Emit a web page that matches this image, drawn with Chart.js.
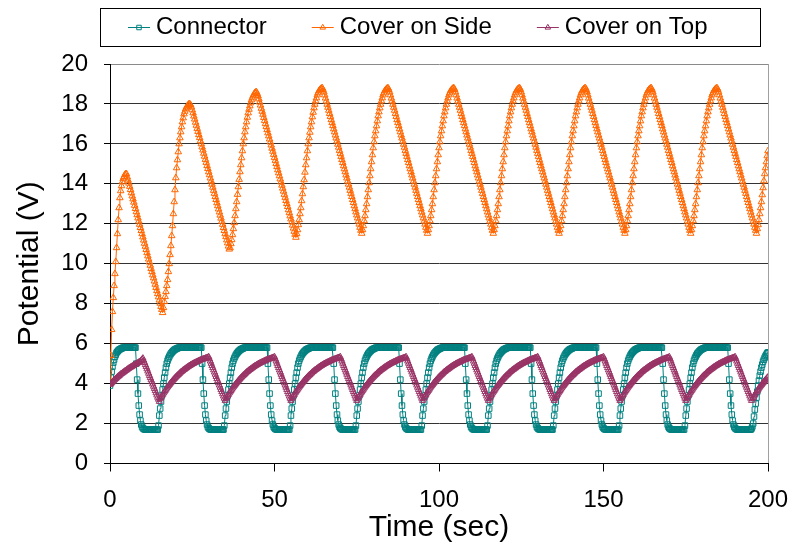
<!DOCTYPE html>
<html>
<head>
<meta charset="utf-8">
<script src="https://cdn.jsdelivr.net/npm/chart.js@4.4.1/dist/chart.umd.min.js"></script>
<style>
html,body{margin:0;padding:0;background:#fff;}
#wrap{width:792px;height:547px;position:relative;}
canvas{display:block;}
</style>
</head>
<body>
<div id="wrap"><canvas id="c" width="792" height="547"></canvas></div>
<script>
// sampling interval of the recorded series (seconds)
const timeStepSec = 0.25;

const seriesNames = ['Connector', 'Cover on Side', 'Cover on Top'];
const xTickValues = [0, 50, 100, 150, 200];
const yTickValues = [0, 2, 4, 6, 8, 10, 12, 14, 16, 18, 20];

// Connector potential (V), t = 0 .. 200 s, one line per 20 s
const connector = [
3.9,4.3,4.6,4.85,5.05,5.2,5.35,5.45,5.55,5.6,5.65,5.69,5.72,5.74,5.76,5.78,5.8,5.8,5.8,5.8,5.8,5.8,5.8,5.8,5.8,5.8,5.8,5.8,5.8,5.8,5.8,5.8,5.0,4.2,3.5,2.9,2.45,2.15,1.95,1.83,1.77,1.73,1.71,1.7,1.7,1.7,1.7,1.7,1.7,1.7,1.7,1.7,1.7,1.7,1.7,1.7,1.7,1.7,1.7,1.9,2.4,2.75,3.1,3.4,3.7,4.0,4.3,4.55,4.8,5.0,5.15,5.26,5.35,5.43,5.5,5.55,5.6,5.64,5.68,5.71,
5.73,5.75,5.77,5.79,5.8,5.8,5.8,5.8,5.8,5.8,5.8,5.8,5.8,5.8,5.8,5.8,5.8,5.8,5.8,5.8,5.8,5.8,5.8,5.8,5.8,5.8,5.8,5.8,5.8,5.8,5.8,5.8,5.0,4.2,3.5,2.9,2.45,2.15,1.95,1.83,1.77,1.73,1.71,1.7,1.7,1.7,1.7,1.7,1.7,1.7,1.7,1.7,1.7,1.7,1.7,1.7,1.7,1.7,1.7,1.9,2.4,2.75,3.1,3.4,3.7,4.0,4.3,4.55,4.8,5.0,5.15,5.26,5.35,5.43,5.5,5.55,5.6,5.64,5.68,5.71,
5.73,5.75,5.77,5.79,5.8,5.8,5.8,5.8,5.8,5.8,5.8,5.8,5.8,5.8,5.8,5.8,5.8,5.8,5.8,5.8,5.8,5.8,5.8,5.8,5.8,5.8,5.8,5.8,5.8,5.8,5.8,5.8,5.0,4.2,3.5,2.9,2.45,2.15,1.95,1.83,1.77,1.73,1.71,1.7,1.7,1.7,1.7,1.7,1.7,1.7,1.7,1.7,1.7,1.7,1.7,1.7,1.7,1.7,1.7,1.9,2.4,2.75,3.1,3.4,3.7,4.0,4.3,4.55,4.8,5.0,5.15,5.26,5.35,5.43,5.5,5.55,5.6,5.64,5.68,5.71,
5.73,5.75,5.77,5.79,5.8,5.8,5.8,5.8,5.8,5.8,5.8,5.8,5.8,5.8,5.8,5.8,5.8,5.8,5.8,5.8,5.8,5.8,5.8,5.8,5.8,5.8,5.8,5.8,5.8,5.8,5.8,5.8,5.0,4.2,3.5,2.9,2.45,2.15,1.95,1.83,1.77,1.73,1.71,1.7,1.7,1.7,1.7,1.7,1.7,1.7,1.7,1.7,1.7,1.7,1.7,1.7,1.7,1.7,1.7,1.9,2.4,2.75,3.1,3.4,3.7,4.0,4.3,4.55,4.8,5.0,5.15,5.26,5.35,5.43,5.5,5.55,5.6,5.64,5.68,5.71,
5.73,5.75,5.77,5.79,5.8,5.8,5.8,5.8,5.8,5.8,5.8,5.8,5.8,5.8,5.8,5.8,5.8,5.8,5.8,5.8,5.8,5.8,5.8,5.8,5.8,5.8,5.8,5.8,5.8,5.8,5.8,5.8,5.0,4.2,3.5,2.9,2.45,2.15,1.95,1.83,1.77,1.73,1.71,1.7,1.7,1.7,1.7,1.7,1.7,1.7,1.7,1.7,1.7,1.7,1.7,1.7,1.7,1.7,1.7,1.9,2.4,2.75,3.1,3.4,3.7,4.0,4.3,4.55,4.8,5.0,5.15,5.26,5.35,5.43,5.5,5.55,5.6,5.64,5.68,5.71,
5.73,5.75,5.77,5.79,5.8,5.8,5.8,5.8,5.8,5.8,5.8,5.8,5.8,5.8,5.8,5.8,5.8,5.8,5.8,5.8,5.8,5.8,5.8,5.8,5.8,5.8,5.8,5.8,5.8,5.8,5.8,5.8,5.0,4.2,3.5,2.9,2.45,2.15,1.95,1.83,1.77,1.73,1.71,1.7,1.7,1.7,1.7,1.7,1.7,1.7,1.7,1.7,1.7,1.7,1.7,1.7,1.7,1.7,1.7,1.9,2.4,2.75,3.1,3.4,3.7,4.0,4.3,4.55,4.8,5.0,5.15,5.26,5.35,5.43,5.5,5.55,5.6,5.64,5.68,5.71,
5.73,5.75,5.77,5.79,5.8,5.8,5.8,5.8,5.8,5.8,5.8,5.8,5.8,5.8,5.8,5.8,5.8,5.8,5.8,5.8,5.8,5.8,5.8,5.8,5.8,5.8,5.8,5.8,5.8,5.8,5.8,5.8,5.0,4.2,3.5,2.9,2.45,2.15,1.95,1.83,1.77,1.73,1.71,1.7,1.7,1.7,1.7,1.7,1.7,1.7,1.7,1.7,1.7,1.7,1.7,1.7,1.7,1.7,1.7,1.9,2.4,2.75,3.1,3.4,3.7,4.0,4.3,4.55,4.8,5.0,5.15,5.26,5.35,5.43,5.5,5.55,5.6,5.64,5.68,5.71,
5.73,5.75,5.77,5.79,5.8,5.8,5.8,5.8,5.8,5.8,5.8,5.8,5.8,5.8,5.8,5.8,5.8,5.8,5.8,5.8,5.8,5.8,5.8,5.8,5.8,5.8,5.8,5.8,5.8,5.8,5.8,5.8,5.0,4.2,3.5,2.9,2.45,2.15,1.95,1.83,1.77,1.73,1.71,1.7,1.7,1.7,1.7,1.7,1.7,1.7,1.7,1.7,1.7,1.7,1.7,1.7,1.7,1.7,1.7,1.9,2.4,2.75,3.1,3.4,3.7,4.0,4.3,4.55,4.8,5.0,5.15,5.26,5.35,5.43,5.5,5.55,5.6,5.64,5.68,5.71,
5.73,5.75,5.77,5.79,5.8,5.8,5.8,5.8,5.8,5.8,5.8,5.8,5.8,5.8,5.8,5.8,5.8,5.8,5.8,5.8,5.8,5.8,5.8,5.8,5.8,5.8,5.8,5.8,5.8,5.8,5.8,5.8,5.0,4.2,3.5,2.9,2.45,2.15,1.95,1.83,1.77,1.73,1.71,1.7,1.7,1.7,1.7,1.7,1.7,1.7,1.7,1.7,1.7,1.7,1.7,1.7,1.7,1.7,1.7,1.9,2.4,2.75,3.1,3.4,3.7,4.0,4.3,4.55,4.8,5.0,5.15,5.26,5.35,5.43,5.5,5.55,5.6,5.64,5.68,5.71,
5.73,5.75,5.77,5.79,5.8,5.8,5.8,5.8,5.8,5.8,5.8,5.8,5.8,5.8,5.8,5.8,5.8,5.8,5.8,5.8,5.8,5.8,5.8,5.8,5.8,5.8,5.8,5.8,5.8,5.8,5.8,5.8,5.0,4.2,3.5,2.9,2.45,2.15,1.95,1.83,1.77,1.73,1.71,1.7,1.7,1.7,1.7,1.7,1.7,1.7,1.7,1.7,1.7,1.7,1.7,1.7,1.7,1.7,1.7,1.7,1.75,1.85,2.0,2.35,2.7,3.0,3.3,3.6,3.9,4.15,4.4,4.6,4.8,4.95,5.1,5.2,5.3,5.38,5.45,5.52,5.57
];

// Cover on Side potential (V), t = 0 .. 200 s
const coverSide = [
4.0,5.4,6.7,7.6,8.3,8.9,9.5,10.1,10.8,11.5,12.2,12.8,13.3,13.65,13.9,14.1,14.25,14.35,14.45,14.5,14.5,
14.34,14.18,14.03,13.87,13.71,13.55,13.39,13.24,13.08,12.92,12.76,12.6,12.45,12.29,12.13,11.97,11.81,11.66,11.5,11.34,11.18,11.02,10.87,10.71,10.55,10.39,10.23,10.08,9.92,9.76,9.6,9.44,9.29,9.13,8.97,8.81,8.65,8.5,8.34,8.18,8.02,7.86,7.71,7.55,
7.8,8.1,8.35,8.6,8.9,9.2,9.6,10.0,10.45,10.9,11.4,11.9,12.5,13.1,13.7,14.3,14.8,15.2,15.6,16.0,16.3,16.6,16.85,17.1,17.3,17.5,17.63,17.75,17.83,17.9,17.95,18.0,18.0,17.95,
17.85,17.7,17.55,17.39,17.24,17.08,16.93,16.77,16.62,16.46,16.31,16.15,16.0,15.84,15.69,15.53,15.38,15.22,15.07,14.91,14.76,14.6,14.45,14.29,14.14,13.98,13.83,13.67,13.52,13.36,13.21,13.05,12.9,12.74,12.59,12.43,12.28,12.12,11.97,11.81,11.66,11.5,11.35,11.19,11.04,10.88,10.73,
10.8,11.0,11.2,11.45,11.75,12.05,12.4,12.75,13.1,13.47,13.85,14.22,14.6,14.95,15.3,15.65,16.0,16.3,16.6,16.85,17.1,17.33,17.55,17.73,17.9,18.05,18.2,18.3,18.4,18.48,18.55,18.58,18.6,
18.52,18.4,18.25,18.09,17.94,17.78,17.63,17.48,17.32,17.17,17.01,16.86,16.71,16.55,16.4,16.24,16.09,15.94,15.78,15.63,15.47,15.32,15.17,15.01,14.86,14.7,14.55,14.4,14.24,14.09,13.93,13.78,13.63,13.47,13.32,13.16,13.01,12.86,12.7,12.55,12.39,12.24,12.09,11.93,11.78,11.62,11.47,11.32,
11.5,11.7,11.95,12.2,12.5,12.8,13.15,13.5,13.85,14.2,14.58,14.95,15.3,15.65,16.0,16.3,16.58,16.85,17.1,17.35,17.58,17.8,17.98,18.15,18.3,18.45,18.55,18.65,18.7,18.75,18.78,18.8,
18.72,18.6,18.45,18.29,18.14,17.98,17.83,17.68,17.52,17.37,17.21,17.06,16.91,16.75,16.6,16.44,16.29,16.14,15.98,15.83,15.67,15.52,15.37,15.21,15.06,14.9,14.75,14.6,14.44,14.29,14.13,13.98,13.83,13.67,13.52,13.36,13.21,13.06,12.9,12.75,12.59,12.44,12.29,12.13,11.98,11.82,11.67,11.52,11.7,11.9,12.15,12.4,12.7,13.0,13.35,13.7,14.05,14.4,14.75,15.1,15.45,15.8,16.1,16.4,16.65,16.9,17.15,17.4,17.6,17.8,17.98,18.15,18.3,18.45,18.55,18.65,18.7,18.75,18.78,18.8,
18.72,18.6,18.45,18.29,18.14,17.98,17.83,17.68,17.52,17.37,17.21,17.06,16.91,16.75,16.6,16.44,16.29,16.14,15.98,15.83,15.67,15.52,15.37,15.21,15.06,14.9,14.75,14.6,14.44,14.29,14.13,13.98,13.83,13.67,13.52,13.36,13.21,13.06,12.9,12.75,12.59,12.44,12.29,12.13,11.98,11.82,11.67,11.52,11.7,11.9,12.15,12.4,12.7,13.0,13.35,13.7,14.05,14.4,14.75,15.1,15.45,15.8,16.1,16.4,16.65,16.9,17.15,17.4,17.6,17.8,17.98,18.15,18.3,18.45,18.55,18.65,18.7,18.75,18.78,18.8,
18.72,18.6,18.45,18.29,18.14,17.98,17.83,17.68,17.52,17.37,17.21,17.06,16.91,16.75,16.6,16.44,16.29,16.14,15.98,15.83,15.67,15.52,15.37,15.21,15.06,14.9,14.75,14.6,14.44,14.29,14.13,13.98,13.83,13.67,13.52,13.36,13.21,13.06,12.9,12.75,12.59,12.44,12.29,12.13,11.98,11.82,11.67,11.52,11.7,11.9,12.15,12.4,12.7,13.0,13.35,13.7,14.05,14.4,14.75,15.1,15.45,15.8,16.1,16.4,16.65,16.9,17.15,17.4,17.6,17.8,17.98,18.15,18.3,18.45,18.55,18.65,18.7,18.75,18.78,18.8,
18.72,18.6,18.45,18.29,18.14,17.98,17.83,17.68,17.52,17.37,17.21,17.06,16.91,16.75,16.6,16.44,16.29,16.14,15.98,15.83,15.67,15.52,15.37,15.21,15.06,14.9,14.75,14.6,14.44,14.29,14.13,13.98,13.83,13.67,13.52,13.36,13.21,13.06,12.9,12.75,12.59,12.44,12.29,12.13,11.98,11.82,11.67,11.52,11.7,11.9,12.15,12.4,12.7,13.0,13.35,13.7,14.05,14.4,14.75,15.1,15.45,15.8,16.1,16.4,16.65,16.9,17.15,17.4,17.6,17.8,17.98,18.15,18.3,18.45,18.55,18.65,18.7,18.75,18.78,18.8,
18.72,18.6,18.45,18.29,18.14,17.98,17.83,17.68,17.52,17.37,17.21,17.06,16.91,16.75,16.6,16.44,16.29,16.14,15.98,15.83,15.67,15.52,15.37,15.21,15.06,14.9,14.75,14.6,14.44,14.29,14.13,13.98,13.83,13.67,13.52,13.36,13.21,13.06,12.9,12.75,12.59,12.44,12.29,12.13,11.98,11.82,11.67,11.52,11.7,11.9,12.15,12.4,12.7,13.0,13.35,13.7,14.05,14.4,14.75,15.1,15.45,15.8,16.1,16.4,16.65,16.9,17.15,17.4,17.6,17.8,17.98,18.15,18.3,18.45,18.55,18.65,18.7,18.75,18.78,18.8,
18.72,18.6,18.45,18.29,18.14,17.98,17.83,17.68,17.52,17.37,17.21,17.06,16.91,16.75,16.6,16.44,16.29,16.14,15.98,15.83,15.67,15.52,15.37,15.21,15.06,14.9,14.75,14.6,14.44,14.29,14.13,13.98,13.83,13.67,13.52,13.36,13.21,13.06,12.9,12.75,12.59,12.44,12.29,12.13,11.98,11.82,11.67,11.52,11.7,11.9,12.15,12.4,12.7,13.0,13.35,13.7,14.05,14.4,14.75,15.1,15.45,15.8,16.1,16.4,16.65,16.9,17.15,17.4,17.6,17.8,17.98,18.15,18.3,18.45,18.55,18.65,18.7,18.75,18.78,18.8,
18.72,18.6,18.45,18.29,18.14,17.98,17.83,17.68,17.52,17.37,17.21,17.06,16.91,16.75,16.6,16.44,16.29,16.14,15.98,15.83,15.67,15.52,15.37,15.21,15.06,14.9,14.75,14.6,14.44,14.29,14.13,13.98,13.83,13.67,13.52,13.36,13.21,13.06,12.9,12.75,12.59,12.44,12.29,12.13,11.98,11.82,11.67,11.52,11.75,11.95,12.2,12.5,12.8,13.1,13.45,13.8,14.15,14.5,14.8,15.1,15.4,15.65
];

// Cover on Top potential (V), t = 0 .. 200 s
const coverTop = [
3.95,4.0,4.04,4.09,4.13,4.17,4.21,4.25,4.29,4.33,4.36,4.4,4.43,4.47,4.5,4.53,4.56,4.59,4.62,4.65,4.68,4.71,4.74,4.77,4.79,4.82,4.84,4.87,4.89,4.92,4.94,4.97,4.99,5.02,5.04,5.07,5.09,5.12,5.16,5.21,5.27,5.16,5.05,4.94,4.84,4.73,4.62,4.51,4.4,4.29,4.18,4.08,3.97,3.86,3.75,3.64,3.53,3.42,3.31,3.21,
3.1,3.23,3.3,3.38,3.45,3.52,3.58,3.65,3.71,3.77,3.83,3.89,3.94,4.0,4.05,4.1,4.15,4.2,4.24,4.29,4.33,4.37,4.41,4.45,4.49,4.53,4.57,4.6,4.64,4.67,4.7,4.73,4.76,4.79,4.82,4.85,4.88,4.9,4.93,4.95,4.98,5.0,5.02,5.04,5.06,5.08,5.1,5.12,5.14,5.16,5.18,5.19,5.21,5.22,5.24,5.25,5.27,5.28,5.3,5.31,5.34,5.23,5.12,5.01,4.9,4.79,4.68,4.57,4.46,4.35,4.24,4.14,4.03,3.92,3.81,3.7,3.59,3.48,3.37,3.26,
3.15,3.23,3.3,3.38,3.45,3.52,3.58,3.65,3.71,3.77,3.83,3.89,3.94,4.0,4.05,4.1,4.15,4.2,4.24,4.29,4.33,4.37,4.41,4.45,4.49,4.53,4.57,4.6,4.64,4.67,4.7,4.73,4.76,4.79,4.82,4.85,4.88,4.9,4.93,4.95,4.98,5.0,5.02,5.04,5.06,5.08,5.1,5.12,5.14,5.16,5.18,5.19,5.21,5.22,5.24,5.25,5.27,5.28,5.3,5.31,5.34,5.23,5.12,5.01,4.9,4.79,4.68,4.57,4.46,4.35,4.24,4.14,4.03,3.92,3.81,3.7,3.59,3.48,3.37,3.26,
3.15,3.23,3.3,3.38,3.45,3.52,3.58,3.65,3.71,3.77,3.83,3.89,3.94,4.0,4.05,4.1,4.15,4.2,4.24,4.29,4.33,4.37,4.41,4.45,4.49,4.53,4.57,4.6,4.64,4.67,4.7,4.73,4.76,4.79,4.82,4.85,4.88,4.9,4.93,4.95,4.98,5.0,5.02,5.04,5.06,5.08,5.1,5.12,5.14,5.16,5.18,5.19,5.21,5.22,5.24,5.25,5.27,5.28,5.3,5.31,5.34,5.23,5.12,5.01,4.9,4.79,4.68,4.57,4.46,4.35,4.24,4.14,4.03,3.92,3.81,3.7,3.59,3.48,3.37,3.26,
3.15,3.23,3.3,3.38,3.45,3.52,3.58,3.65,3.71,3.77,3.83,3.89,3.94,4.0,4.05,4.1,4.15,4.2,4.24,4.29,4.33,4.37,4.41,4.45,4.49,4.53,4.57,4.6,4.64,4.67,4.7,4.73,4.76,4.79,4.82,4.85,4.88,4.9,4.93,4.95,4.98,5.0,5.02,5.04,5.06,5.08,5.1,5.12,5.14,5.16,5.18,5.19,5.21,5.22,5.24,5.25,5.27,5.28,5.3,5.31,5.34,5.23,5.12,5.01,4.9,4.79,4.68,4.57,4.46,4.35,4.24,4.14,4.03,3.92,3.81,3.7,3.59,3.48,3.37,3.26,
3.15,3.23,3.3,3.38,3.45,3.52,3.58,3.65,3.71,3.77,3.83,3.89,3.94,4.0,4.05,4.1,4.15,4.2,4.24,4.29,4.33,4.37,4.41,4.45,4.49,4.53,4.57,4.6,4.64,4.67,4.7,4.73,4.76,4.79,4.82,4.85,4.88,4.9,4.93,4.95,4.98,5.0,5.02,5.04,5.06,5.08,5.1,5.12,5.14,5.16,5.18,5.19,5.21,5.22,5.24,5.25,5.27,5.28,5.3,5.31,5.34,5.23,5.12,5.01,4.9,4.79,4.68,4.57,4.46,4.35,4.24,4.14,4.03,3.92,3.81,3.7,3.59,3.48,3.37,3.26,
3.15,3.23,3.3,3.38,3.45,3.52,3.58,3.65,3.71,3.77,3.83,3.89,3.94,4.0,4.05,4.1,4.15,4.2,4.24,4.29,4.33,4.37,4.41,4.45,4.49,4.53,4.57,4.6,4.64,4.67,4.7,4.73,4.76,4.79,4.82,4.85,4.88,4.9,4.93,4.95,4.98,5.0,5.02,5.04,5.06,5.08,5.1,5.12,5.14,5.16,5.18,5.19,5.21,5.22,5.24,5.25,5.27,5.28,5.3,5.31,5.34,5.23,5.12,5.01,4.9,4.79,4.68,4.57,4.46,4.35,4.24,4.14,4.03,3.92,3.81,3.7,3.59,3.48,3.37,3.26,
3.15,3.23,3.3,3.38,3.45,3.52,3.58,3.65,3.71,3.77,3.83,3.89,3.94,4.0,4.05,4.1,4.15,4.2,4.24,4.29,4.33,4.37,4.41,4.45,4.49,4.53,4.57,4.6,4.64,4.67,4.7,4.73,4.76,4.79,4.82,4.85,4.88,4.9,4.93,4.95,4.98,5.0,5.02,5.04,5.06,5.08,5.1,5.12,5.14,5.16,5.18,5.19,5.21,5.22,5.24,5.25,5.27,5.28,5.3,5.31,5.34,5.23,5.12,5.01,4.9,4.79,4.68,4.57,4.46,4.35,4.24,4.14,4.03,3.92,3.81,3.7,3.59,3.48,3.37,3.26,
3.15,3.23,3.3,3.38,3.45,3.52,3.58,3.65,3.71,3.77,3.83,3.89,3.94,4.0,4.05,4.1,4.15,4.2,4.24,4.29,4.33,4.37,4.41,4.45,4.49,4.53,4.57,4.6,4.64,4.67,4.7,4.73,4.76,4.79,4.82,4.85,4.88,4.9,4.93,4.95,4.98,5.0,5.02,5.04,5.06,5.08,5.1,5.12,5.14,5.16,5.18,5.19,5.21,5.22,5.24,5.25,5.27,5.28,5.3,5.31,5.34,5.23,5.12,5.01,4.9,4.79,4.68,4.57,4.46,4.35,4.24,4.14,4.03,3.92,3.81,3.7,3.59,3.48,3.37,3.26,
3.15,3.23,3.3,3.38,3.45,3.52,3.58,3.65,3.71,3.77,3.83,3.89,3.94,4.0,4.05,4.1,4.15,4.2,4.24,4.29,4.33,4.37,4.41,4.45,4.49,4.53,4.57,4.6,4.64,4.67,4.7,4.73,4.76,4.79,4.82,4.85,4.88,4.9,4.93,4.95,4.98,5.0,5.02,5.04,5.06,5.08,5.1,5.12,5.14,5.16,5.18,5.19,5.21,5.22,5.24,5.25,5.27,5.28,5.3,5.31,5.34,5.23,5.12,5.01,4.9,4.79,4.68,4.57,4.46,4.35,4.24,4.14,4.03,3.92,3.81,3.7,3.59,3.48,3.37,3.26,
3.15,3.23,3.3,3.38,3.45,3.52,3.58,3.65,3.71,3.77,3.83,3.89,3.94,4.0,4.05,4.1,4.15,4.2,4.24,4.29,4.33
];

const time = connector.map((_, i) => i * timeStepSec);
const toPoints = arr => arr.map((v, i) => ({x: time[i], y: v}));

const FONT = "'Liberation Sans', Arial, Helvetica, sans-serif";
const legendFrame = {left: 100, top: 8, right: 760, bottom: 46};

const framedLegend = {
  id: 'framedLegend',
  afterDraw(chart) {
    const c = chart.ctx;
    c.save();
    c.strokeStyle = '#000';
    c.lineWidth = 1;
    c.strokeRect(legendFrame.left + 0.5, legendFrame.top + 0.5,
                 legendFrame.right - legendFrame.left, legendFrame.bottom - legendFrame.top);
    c.font = '24px ' + FONT;
    c.textBaseline = 'middle';
    c.textAlign = 'left';
    const cy = (legendFrame.top + legendFrame.bottom) / 2;
    let x = legendFrame.left + 28;
    chart.data.datasets.forEach(ds => {
      c.strokeStyle = ds.borderColor;
      c.lineWidth = 1;
      c.beginPath();
      c.moveTo(x, Math.round(cy) + 0.5);
      c.lineTo(x + 22, Math.round(cy) + 0.5);
      c.stroke();
      c.fillStyle = 'rgba(255,255,255,0)';
      c.strokeStyle = ds.pointBorderColor;
      Chart.helpers.drawPoint(c, {pointStyle: ds.pointStyle, radius: 3.2, borderWidth: 1, rotation: 0}, x + 11, Math.round(cy) + 0.5);
      c.fillStyle = '#000';
      c.fillText(ds.label, x + 28, cy);
      x += 28 + c.measureText(ds.label).width + 45;
    });
    c.restore();
  }
};

const colors = ['#008080', '#FF6600', '#993366'];
const styles = ['rect', 'triangle', 'triangle'];
const radii = [3.9, 3.8, 3.6];
const values = [connector, coverSide, coverTop];
const orders = [2, 1, 0];

const datasets = values.map((arr, k) => ({
  label: seriesNames[k],
  data: toPoints(arr),
  borderColor: colors[k],
  backgroundColor: colors[k],
  borderWidth: 1,
  pointStyle: styles[k],
  pointRadius: radii[k],
  pointBorderColor: colors[k],
  pointBackgroundColor: 'rgba(255,255,255,0)',
  pointBorderWidth: 1,
  tension: 0,
  order: orders[k]
}));

new Chart(document.getElementById('c').getContext('2d'), {
  type: 'line',
  data: {datasets},
  plugins: [framedLegend],
  options: {
    responsive: false,
    animation: false,
    devicePixelRatio: 1,
    events: [],
    layout: {padding: {top: 64, right: 24, left: 0, bottom: 0}},
    plugins: {legend: {display: false}, tooltip: {enabled: false}},
    scales: {
      x: {
        type: 'linear',
        min: 0, max: 200,
        afterBuildTicks: axis => { axis.ticks = xTickValues.map(v => ({value: v})); },
        afterFit: axis => { axis.height = 83.5; axis.paddingLeft = 0; axis.paddingRight = 0; },
        border: {color: '#000', width: 1},
        grid: {
          drawOnChartArea: true,
          color: c => (c.tick && c.tick.value === 200) ? '#a0a0a0' : 'rgba(0,0,0,0)',
          tickColor: '#000',
          tickLength: 8,
          lineWidth: 1
        },
        ticks: {font: {family: FONT, size: 24}, color: '#000', padding: 14, maxRotation: 0},
        title: {display: true, text: 'Time (sec)', font: {family: FONT, size: 30}, color: '#000', padding: {top: 0, bottom: 1}}
      },
      y: {
        min: 0, max: 20,
        afterBuildTicks: axis => { axis.ticks = yTickValues.map(v => ({value: v})); },
        afterFit: axis => { axis.width = 110; axis.paddingTop = 0; axis.paddingBottom = 0; },
        border: {color: '#000', width: 1},
        grid: {
          color: c => (c.tick && c.tick.value === 20) ? '#8a8a8a' : '#333333',
          tickColor: '#000',
          tickLength: 6,
          lineWidth: 1
        },
        ticks: {font: {family: FONT, size: 24}, color: '#000', padding: 16},
        title: {display: true, text: 'Potential (V)', font: {family: FONT, size: 30}, color: '#000', padding: {top: 12, bottom: 0}}
      }
    }
  }
});
</script>
</body>
</html>
